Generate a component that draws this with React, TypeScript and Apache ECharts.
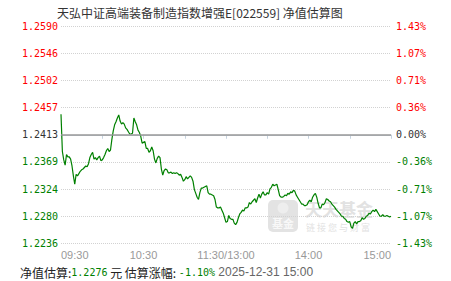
import React, { useEffect, useRef } from "react";
import * as echarts from "echarts";

const BASE = 1.2413;
const STEP = 0.357;
const TITLE = "天弘中证高端装备制造指数增强E[022559] 净值估算图";
const TICK_LABELS = ["09:30", "10:30", "11:30/13:00", "14:00", "15:00"];
const EST_NAV = "1.2276";
const EST_CHANGE = "-1.10%";
const EST_TIME = "2025-12-31 15:00";

// percent change vs previous NAV, 09:30 .. 11:30 (one point per minute)
const MORNING_PCT = [
  0.27, -0.22, -0.33, -0.4, -0.26, -0.29, -0.29, -0.32, -0.41, -0.54,
  -0.65, -0.52, -0.54, -0.51, -0.48, -0.46, -0.45, -0.43, -0.41, -0.42,
  -0.38, -0.3, -0.26, -0.23, -0.32, -0.3, -0.33, -0.3, -0.28, -0.34,
  -0.33, -0.3, -0.26, -0.21, -0.18, -0.22, -0.2, -0.06, 0.05, 0.13,
  0.17, 0.22, 0.26, 0.18, 0.14, 0.16, 0.14, 0.09, 0.07, 0.04,
  0.01, 0.01, 0.02, 0.22, 0.17, 0.13, 0.06, 0.03, -0.02, -0.11,
  -0.1, -0.09, -0.18, -0.18, -0.23, -0.21, -0.16, -0.21, -0.32, -0.37,
  -0.31, -0.28, -0.3, -0.45, -0.53, -0.47, -0.45, -0.46, -0.5, -0.5,
  -0.49, -0.51, -0.5, -0.51, -0.5, -0.51, -0.53, -0.52, -0.56, -0.61,
  -0.59, -0.55, -0.58, -0.56, -0.54, -0.56, -0.61, -0.72, -0.77, -0.82,
  -0.85, -0.76, -0.7, -0.7, -0.69, -0.68, -0.67, -0.76, -0.78, -0.78,
  -0.79, -0.8, -0.85, -0.95, -0.96, -0.96, -0.95, -0.99, -1.03, -1.09,
  -1.15,
];

// 13:01 .. 15:00
const AFTERNOON_PCT = [
  -1.14, -1.06, -1.1, -1.11, -1.11, -1.16, -1.18, -1.15, -1.09, -1.04,
  -1.02, -0.99, -1.0, -0.96, -0.96, -0.95, -0.89, -0.91, -0.88, -0.86,
  -0.84, -0.89, -0.83, -0.78, -0.83, -0.78, -0.75, -0.79, -0.79, -0.76,
  -0.78, -0.71, -0.69, -0.65, -0.67, -0.66, -0.65, -0.72, -0.8, -0.82,
  -0.82, -0.81, -0.79, -0.8, -0.77, -0.78, -0.75, -0.76, -0.73, -0.74,
  -0.79, -0.82, -0.85, -0.88, -0.91, -0.91, -0.93, -0.93, -0.92, -0.88,
  -0.86, -0.88, -0.82, -0.79, -0.77, -0.82, -0.9, -0.96, -0.96, -0.91,
  -0.92, -0.89, -0.84, -0.85, -0.87, -0.88, -0.91, -0.93, -0.95, -0.98,
  -1.0, -1.02, -1.04, -1.07, -1.07, -1.1, -1.11, -1.14, -1.15, -1.14,
  -1.21, -1.23, -1.16, -1.14, -1.17, -1.14, -1.14, -1.13, -1.09, -1.11,
  -1.1, -1.07, -1.06, -1.03, -1.04, -1.01, -0.99, -1.01, -0.98, -1.01,
  -1.04, -1.07, -1.07, -1.05, -1.07, -1.07, -1.06, -1.07, -1.08, -1.07,
];

function hhmm(t: number) {
  const h = Math.floor(t / 60);
  const m = t % 60;
  return String(h).padStart(2, "0") + ":" + String(m).padStart(2, "0");
}

function buildCategories() {
  const cats: string[] = [];
  for (let i = 0; i < MORNING_PCT.length; i++) {
    cats.push(i === MORNING_PCT.length - 1 ? TICK_LABELS[2] : hhmm(9 * 60 + 30 + i));
  }
  for (let i = 1; i <= AFTERNOON_PCT.length; i++) cats.push(hhmm(13 * 60 + i));
  return cats;
}

const RED = "#ff0000";
const GREEN = "#008000";
const MONO = "DejaVu Sans Mono";
const CJK = "Noto Sans CJK SC";

function labelColor(v: any) {
  const n = Number(v);
  if (n > 1e-9) return RED;
  if (n < -1e-9) return GREEN;
  return "#333333";
}

export default function App() {
  const ref = useRef<HTMLDivElement>(null);

  useEffect(() => {
    if (!ref.current) return;
    const chart = echarts.init(ref.current, null, { renderer: "svg" });
    const categories = buildCategories();
    const data = [...MORNING_PCT, ...AFTERNOON_PCT];

    const yCommon: any = {
      type: "value",
      min: -4 * STEP,
      max: 4 * STEP,
      interval: STEP,
      axisLine: { show: false },
      axisTick: { show: false },
    };

    chart.setOption({
      animation: false,
      backgroundColor: "#ffffff",
      grid: { left: 61, right: 60, top: 26, bottom: 37.5, containLabel: false },
      xAxis: {
        type: "category",
        data: categories,
        boundaryGap: false,
        axisLine: { lineStyle: { color: "#c6d3df", width: 1 } },
        axisTick: {
          interval: (i: number) => i % 30 === 0,
          length: 4,
          lineStyle: { color: "#c6d3df" },
        },
        axisLabel: {
          interval: (i: number) => i % 60 === 0,
          formatter: (_v: string, i: number) => (i % 60 === 0 ? TICK_LABELS[i / 60] : ""),
          color: "#999999",
          fontFamily: "Liberation Sans",
          fontSize: 11,
          margin: 6,
          alignMinLabel: "left",
          alignMaxLabel: "right",
        },
        splitLine: { show: false },
      },
      yAxis: [
        {
          ...yCommon,
          position: "left",
          axisLabel: {
            formatter: (v: number) => (BASE * (1 + v / 100)).toFixed(4),
            color: (v: any) => labelColor(v),
            fontFamily: MONO,
            fontSize: 10,
            margin: 3,
          },
          splitLine: { show: true, lineStyle: { type: "dotted", color: "#d2d2d2", width: 1 } },
        },
        {
          ...yCommon,
          position: "right",
          axisLabel: {
            formatter: (v: number) => (Math.abs(v) < 1e-9 ? 0 : v).toFixed(2) + "%",
            color: (v: any) => labelColor(v),
            fontFamily: MONO,
            fontSize: 10,
            margin: 5,
          },
          splitLine: { show: false },
        },
      ],
      series: [
        {
          type: "line",
          data,
          yAxisIndex: 0,
          showSymbol: false,
          symbol: "none",
          lineStyle: { color: GREEN, width: 1.2 },
          itemStyle: { color: GREEN },
          z: 3,
          markLine: {
            silent: true,
            animation: false,
            symbol: ["none", "none"],
            label: { show: false },
            lineStyle: { color: "#999999", type: "solid", width: 1.5 },
            data: [{ yAxis: 0 }],
          },
        },
      ],
      graphic: [
        {
          type: "text",
          x: 57,
          y: 12,
          style: { text: TITLE, fontFamily: CJK, fontSize: 12, fill: "#333333", verticalAlign: "middle" },
        },
        {
          type: "text",
          x: 20,
          y: 272,
          style: {
            text: `{a|净值估算:}{g|${EST_NAV}}{a| 元 估算涨幅: }{g|${EST_CHANGE}}{d| ${EST_TIME}}`,
            verticalAlign: "middle",
            rich: {
              a: { fontFamily: CJK, fontSize: 12, fill: "#222222" },
              g: { fontFamily: MONO, fontSize: 10, fill: GREEN },
              d: { fontFamily: "Liberation Sans", fontSize: 12, fill: "#666666" },
            },
          },
        },
        {
          type: "group",
          z: 0,
          children: [
            { type: "rect", shape: { x: 268, y: 200, width: 30, height: 32, r: 5 }, style: { fill: "#e3e3e3" } },
            { type: "circle", shape: { cx: 283, cy: 208, r: 5.5 }, style: { fill: "#eeeeee" } },
            {
              type: "text",
              x: 283,
              y: 223,
              style: { text: "基金", fontFamily: CJK, fontSize: 11, fontWeight: "bold", fill: "#f8f8f8", align: "center", verticalAlign: "middle" },
            },
            {
              type: "text",
              x: 305,
              y: 208,
              style: { text: "天天基金", fontFamily: CJK, fontSize: 17, fontWeight: "bold", fill: "#e2e2e2", verticalAlign: "middle" },
            },
            {
              type: "text",
              x: 306,
              y: 227.5,
              style: { text: "链 接 您 与 财 富", fontFamily: CJK, fontSize: 9, fill: "#e2e2e2", verticalAlign: "middle" },
            },
          ],
        },
      ],
    });

    return () => chart.dispose();
  }, []);

  return (
    <div
      ref={ref}
      style={{ position: "fixed", left: 0, top: 0, width: 451, height: 281, background: "#ffffff" }}
    />
  );
}
